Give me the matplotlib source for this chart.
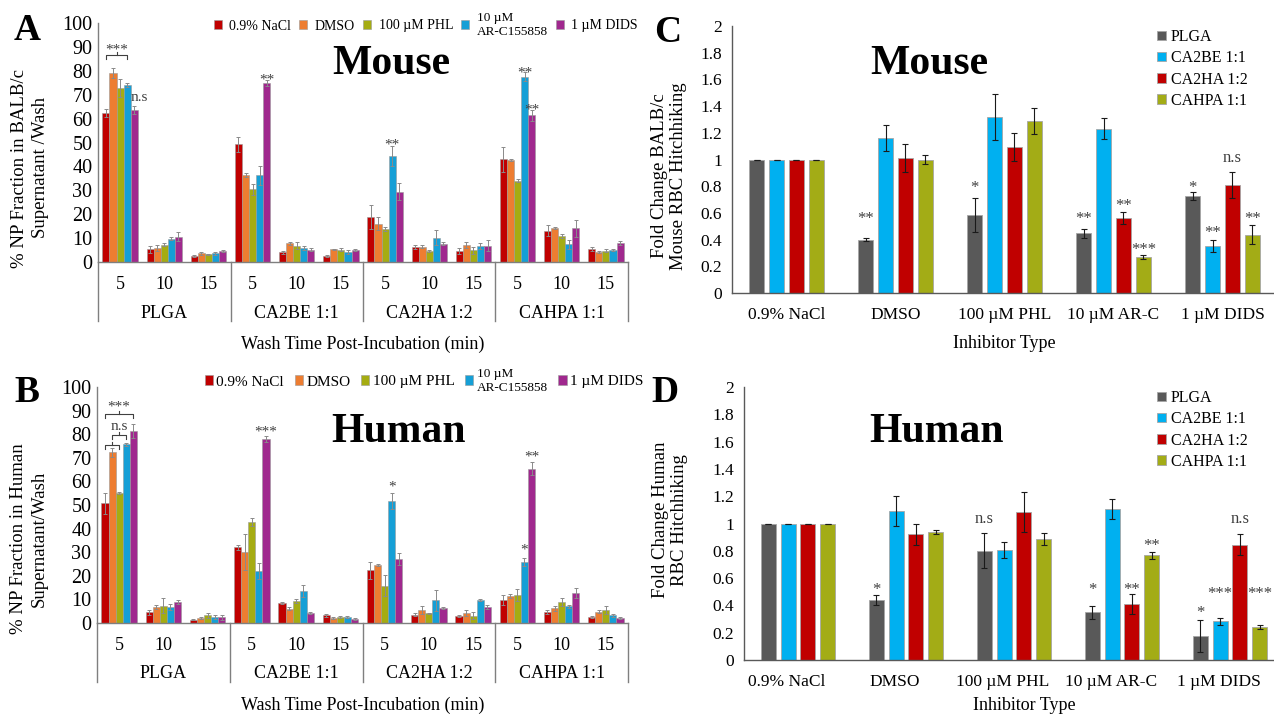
import numpy as np
import matplotlib.pyplot as plt
from matplotlib.transforms import ScaledTranslation, blended_transform_factory

plt.rcParams['font.family'] = ['Liberation Serif', 'DejaVu Serif']

# ---- panels A / B : % NP fraction in supernatant per wash ----
wash_times = ['5', '10', '15']
formulations = ['PLGA', 'CA2BE 1:1', 'CA2HA 1:2', 'CAHPA 1:1']
inhibitors = ['0.9% NaCl', 'DMSO', '100 µM PHL', '10 µM\nAR-C155858', '1 µM DIDS']
wash_colors = ['#C00000', '#ED7D31', '#A5AC12', '#159FD6', '#A0288E']

# order: PLGA 5/10/15, CA2BE 5/10/15, CA2HA 5/10/15, CAHPA 5/10/15
a_nacl = [62.4, 5.3, 2.6, 49.3, 4.0, 2.5, 18.7, 6.3, 4.7, 42.9, 13.0, 5.3]
a_nacl_err = [1.8, 1.5, 0.5, 3.2, 0.6, 0.5, 5.1, 0.8, 1.2, 5.1, 2.3, 0.9]
a_dmso = [79.2, 5.8, 3.6, 36.4, 7.8, 5.3, 16.0, 6.4, 7.1, 42.6, 14.2, 4.3]
a_dmso_err = [2.1, 1.3, 0.6, 0.8, 0.5, 0.3, 2.7, 0.6, 1.2, 0.3, 0.5, 0.4]
a_phl = [72.8, 7.2, 3.2, 30.4, 6.8, 5.2, 13.8, 4.6, 4.9, 34.1, 10.9, 4.7]
a_phl_err = [3.8, 0.6, 0.3, 2.2, 1.5, 0.5, 0.8, 0.3, 1.5, 0.8, 1.0, 0.6]
a_arc = [74.1, 9.7, 3.6, 36.2, 5.8, 4.2, 44.3, 10.2, 6.8, 77.6, 7.4, 5.0]
a_arc_err = [1.0, 0.6, 0.6, 4.0, 0.8, 0.8, 4.2, 3.0, 1.3, 1.7, 1.8, 0.5]
a_dids = [63.6, 10.6, 4.7, 74.9, 5.2, 5.0, 29.4, 7.7, 6.8, 61.3, 14.1, 8.1]
a_dids_err = [1.6, 1.8, 0.5, 1.1, 0.5, 0.3, 3.5, 0.5, 2.4, 2.5, 3.5, 0.8]

b_nacl = [50.7, 4.5, 1.3, 32.1, 8.5, 3.2, 22.3, 3.5, 2.8, 9.9, 4.7, 2.5]
b_nacl_err = [4.5, 1.2, 0.2, 1.1, 0.3, 0.5, 3.5, 0.6, 0.4, 2.1, 0.9, 0.4]
b_dmso = [72.3, 6.8, 2.1, 30.1, 6.1, 2.3, 24.6, 5.6, 4.2, 11.4, 6.2, 4.7]
b_dmso_err = [1.9, 0.9, 0.5, 7.8, 0.8, 0.4, 0.5, 1.7, 1.4, 0.7, 1.0, 0.6]
b_phl = [55.1, 7.3, 3.2, 42.8, 9.3, 2.5, 15.8, 4.1, 3.1, 11.9, 8.9, 5.6]
b_phl_err = [0.5, 3.1, 1.2, 1.7, 0.9, 0.5, 4.4, 0.2, 1.5, 2.7, 1.7, 1.6]
b_arc = [75.7, 6.8, 2.5, 22.0, 13.6, 2.5, 51.8, 9.6, 9.9, 25.8, 7.1, 3.2]
b_arc_err = [0.7, 1.3, 0.9, 3.5, 2.4, 0.4, 3.4, 4.5, 0.4, 1.7, 0.7, 0.5]
b_dids = [81.2, 8.9, 2.4, 78.0, 4.2, 1.7, 27.1, 6.4, 6.8, 65.4, 12.7, 2.2]
b_dids_err = [3.0, 1.0, 1.0, 1.4, 0.3, 0.3, 2.7, 0.5, 0.8, 2.8, 2.3, 0.4]

# significance marks: (slot, bar index or centre offset, text, y of glyph)
a_marks = [(0, -0.5, '***', 90.7), (0, 2.7, 'n.s', 68.6), (3, 2, '**', 78.1),
           (6, 1, '**', 51.0), (9, 1, '**', 80.9), (9, 2, '**', 65.6)]
a_brackets = [(0, -2, 1, 86.5)]
b_marks = [(0, 0, '***', 93.2), (0, 0, 'n.s', 83.0), (3, 2, '***', 82.8),
           (6, 1, '*', 59.7), (9, 1, '*', 32.9), (9, 2, '**', 72.0)]
b_brackets = [(0, -2, 0, 75.5), (0, -1, 1, 79.5), (0, -2, 2, 88.5)]

# ---- panels C / D : fold change in RBC hitchhiking ----
inhib_types = ['0.9% NaCl', 'DMSO', '100 µM PHL', '10 µM AR-C', '1 µM DIDS']
np_types = ['PLGA', 'CA2BE 1:1', 'CA2HA 1:2', 'CAHPA 1:1']
fold_colors = ['#595959', '#00B0F0', '#C00000', '#A3AC16']

c_plga = [1.0, 0.40, 0.584, 0.446, 0.726]
c_plga_err = [0.0, 0.01, 0.127, 0.033, 0.03]
c_ca2be = [1.0, 1.16, 1.319, 1.232, 0.354]
c_ca2be_err = [0.0, 0.095, 0.17, 0.077, 0.045]
c_ca2ha = [1.0, 1.01, 1.097, 0.561, 0.808]
c_ca2ha_err = [0.0, 0.105, 0.105, 0.042, 0.10]
c_cahpa = [1.0, 1.0, 1.289, 0.269, 0.436]
c_cahpa_err = [0.0, 0.035, 0.095, 0.015, 0.07]

d_plga = [1.0, 0.439, 0.80, 0.351, 0.176]
d_plga_err = [0.0, 0.034, 0.127, 0.047, 0.115]
d_ca2be = [1.0, 1.093, 0.805, 1.105, 0.285]
d_ca2be_err = [0.0, 0.11, 0.059, 0.073, 0.025]
d_ca2ha = [1.0, 0.922, 1.085, 0.407, 0.844]
d_ca2ha_err = [0.0, 0.078, 0.147, 0.073, 0.078]
d_cahpa = [1.0, 0.939, 0.888, 0.768, 0.239]
d_cahpa_err = [0.0, 0.017, 0.046, 0.025, 0.015]

c_marks = [(1, 0, '**', 0.586), (2, 0, '*', 0.823), (3, 0, '**', 0.586), (3, 2, '**', 0.69),
           (3, 3, '***', 0.36), (4, 0, '*', 0.82), (4, 1, '**', 0.486), (4, 2, 'n.s', 1.01),
           (4, 3, '**', 0.586)]
d_marks = [(1, 0, '*', 0.549), (2, 0, 'n.s', 1.03), (3, 0, '*', 0.549), (3, 2, '**', 0.549),
           (3, 3, '**', 0.866), (4, 0, '*', 0.378), (4, 1, '***', 0.517), (4, 2, 'n.s', 1.03),
           (4, 3, '***', 0.517)]

W, H = 1274, 714
fig = plt.figure(figsize=(W / 100, H / 100), dpi=100)
fig.patch.set_facecolor('white')


def fx(x):
    return x / W


def fy(y):
    return 1 - y / H


def px_down(ax, dy):
    # x in data, y at the axis line shifted down by dy pixels
    return blended_transform_factory(ax.transData, ax.transAxes) + \
        ScaledTranslation(0, -dy / 100, fig.dpi_scale_trans)


def mark(ax, x, y, s, size=12):
    off = 0.52 if '*' in s else 0.22
    tr = ax.transData + ScaledTranslation(0, -off * size / 72, fig.dpi_scale_trans)
    ax.text(x, y, s, transform=tr, ha='center', va='baseline', fontsize=size, color='#404040')


def style_axes(ax):
    for s in ['top', 'right']:
        ax.spines[s].set_visible(False)
    for s in ['left', 'bottom']:
        ax.spines[s].set_color('#7f7f7f')
        ax.spines[s].set_linewidth(1)
    ax.tick_params(length=0)


def wash_panel(rect, means, errs, marks, brackets, legend_fs, legend_xy, legend_cs, legend_pad):
    ax = fig.add_axes(rect)
    x = np.arange(len(means[0]))
    w = 0.16
    for i in range(5):
        ax.bar(x + (i - 2) * w, means[i], w, yerr=errs[i], color=wash_colors[i],
               edgecolor='#9a9a9a', linewidth=0.4, label=inhibitors[i],
               error_kw=dict(ecolor='#8a8a8a', elinewidth=0.7, capsize=1.5, capthick=0.7))
    style_axes(ax)
    ax.set_xlim(-0.5, len(x) - 0.5)
    ax.set_ylim(0, 100)
    ax.set_yticks(np.arange(0, 101, 10))
    ax.set_xticks(x)
    ax.set_xticklabels(wash_times * len(formulations))
    ax.tick_params(axis='y', labelsize=14.5, pad=4)
    ax.tick_params(axis='x', labelsize=13, pad=10)
    h_px = rect[3] * H
    for k, name in enumerate(formulations):
        ax.text(3 * k + 1, 0, name, transform=px_down(ax, 51), ha='center', va='center', fontsize=13)
    for xs in np.arange(-0.5, len(x), 3):
        ax.plot([xs, xs], [0, -59 / h_px], color='#7f7f7f', lw=1,
                transform=blended_transform_factory(ax.transData, ax.transAxes), clip_on=False)
    ax.text(5.5, 0, 'Wash Time Post-Incubation (min)', transform=px_down(ax, 82),
            ha='center', va='center', fontsize=13)
    for slot, bi, s, y in marks:
        mark(ax, slot + bi * w, y, s, size=11)
    for slot, i0, i1, y in brackets:
        x0, x1 = slot + i0 * w, slot + i1 * w
        xm = (x0 + x1) / 2
        ax.plot([x0, x0, x1, x1], [y - 1.6, y, y, y - 1.6], color='#404040', lw=0.8)
        ax.plot([xm, xm], [y, y + 1.4], color='#404040', lw=0.8)
    leg = ax.legend(ncol=5, loc='center left', bbox_to_anchor=legend_xy, bbox_transform=fig.transFigure,
                    frameon=False, fontsize=legend_fs, handlelength=0.55, handleheight=0.55,
                    handletextpad=legend_pad, columnspacing=legend_cs, borderpad=0, borderaxespad=0)
    leg.get_texts()[3].set_fontsize(9.5)
    return ax


def fold_panel(rect, means, errs, marks, legend_xy, shift_px=0):
    ax = fig.add_axes(rect)
    x = np.arange(len(inhib_types))
    pitch, w = 0.183, 0.138
    for i in range(4):
        ax.bar(x + (i - 1.5) * pitch, means[i], w, yerr=errs[i], color=fold_colors[i],
               edgecolor='#a6a6a6', linewidth=0.6, label=np_types[i],
               error_kw=dict(ecolor='#1a1a1a', elinewidth=0.8, capsize=2, capthick=0.8))
    style_axes(ax)
    ax.spines['left'].set_color('#595959')
    ax.spines['bottom'].set_color('#595959')
    ax.set_xlim(-0.5, 4.5)
    ax.set_ylim(0, 2)
    ax.set_yticks(np.arange(0, 2.01, 0.2))
    ax.set_yticklabels([f'{v:g}' for v in np.arange(0, 2.01, 0.2)])
    ax.set_xticks(x)
    ax.set_xticklabels(inhib_types)
    ax.tick_params(axis='y', labelsize=12.5, pad=7)
    ax.tick_params(axis='x', labelsize=12.5, pad=10)
    if shift_px:
        for lab in ax.get_xticklabels():
            lab.set_transform(lab.get_transform() + ScaledTranslation(shift_px / 100, 0, fig.dpi_scale_trans))
    for cat, bi, s, y in marks:
        mark(ax, cat + (bi - 1.5) * pitch, y, s, size=12)
    ax.legend(loc='upper left', bbox_to_anchor=legend_xy, bbox_transform=fig.transFigure,
              frameon=False, fontsize=11.5, handlelength=0.55, handleheight=0.55,
              handletextpad=0.3, labelspacing=0.33, borderpad=0, borderaxespad=0)
    return ax


ax_a = wash_panel([fx(98), fy(262), fx(530), 239 / H],
                  [a_nacl, a_dmso, a_phl, a_arc, a_dids],
                  [a_nacl_err, a_dmso_err, a_phl_err, a_arc_err, a_dids_err],
                  a_marks, a_brackets, 10, (fx(214), fy(25)), 0.6, 0.55)
ax_b = wash_panel([fx(97), fy(623), fx(531), 236 / H],
                  [b_nacl, b_dmso, b_phl, b_arc, b_dids],
                  [b_nacl_err, b_dmso_err, b_phl_err, b_arc_err, b_dids_err],
                  b_marks, b_brackets, 11, (fx(205), fy(381)), 0.7, 0.2)
ax_c = fold_panel([fx(732), fy(293), fx(545), 267 / H],
                  [c_plga, c_ca2be, c_ca2ha, c_cahpa],
                  [c_plga_err, c_ca2be_err, c_ca2ha_err, c_cahpa_err],
                  c_marks, (fx(1157), fy(29)))
ax_d = fold_panel([fx(744), fy(660), fx(540), 273 / H],
                  [d_plga, d_ca2be, d_ca2ha, d_cahpa],
                  [d_plga_err, d_ca2be_err, d_ca2ha_err, d_cahpa_err],
                  d_marks, (fx(1157), fy(390)), shift_px=-11)

ax_c.text(2, 0, 'Inhibitor Type', transform=px_down(ax_c, 50), ha='center', va='center', fontsize=13)
ax_d.text(2.1, 0, 'Inhibitor Type', transform=px_down(ax_d, 45), ha='center', va='center', fontsize=13)

# y labels
fig.text(fx(30), fy(168), '% NP Fraction in BALB/c\nSupernatant /Wash', rotation=90,
         ha='center', va='center', fontsize=13.5, linespacing=1.25)
fig.text(fx(29), fy(539), '% NP Fraction in Human\nSupernatant/Wash', rotation=90,
         ha='center', va='center', fontsize=13.5, linespacing=1.25)
fig.text(fx(669), fy(176), 'Fold Change BALB/c\nMouse RBC Hitchhiking', rotation=90,
         ha='center', va='center', fontsize=13.5, linespacing=1.15)
fig.text(fx(670), fy(520), 'Fold Change Human\nRBC Hitchhiking', rotation=90,
         ha='center', va='center', fontsize=13.5, linespacing=1.15)

# titles and panel letters
for txt, xy in [('Mouse', (391, 64)), ('Human', (398, 432)), ('Mouse', (929, 64)), ('Human', (936, 432))]:
    fig.text(fx(xy[0]), fy(xy[1]), txt, ha='center', va='center', fontsize=30, fontweight='bold')
for txt, xy in [('A', (27, 31)), ('B', (27, 392)), ('C', (668, 32)), ('D', (665, 392))]:
    fig.text(fx(xy[0]), fy(xy[1]), txt, ha='center', va='center', fontsize=27, fontweight='bold')

fig.savefig('out.png', dpi=100, facecolor='white')
